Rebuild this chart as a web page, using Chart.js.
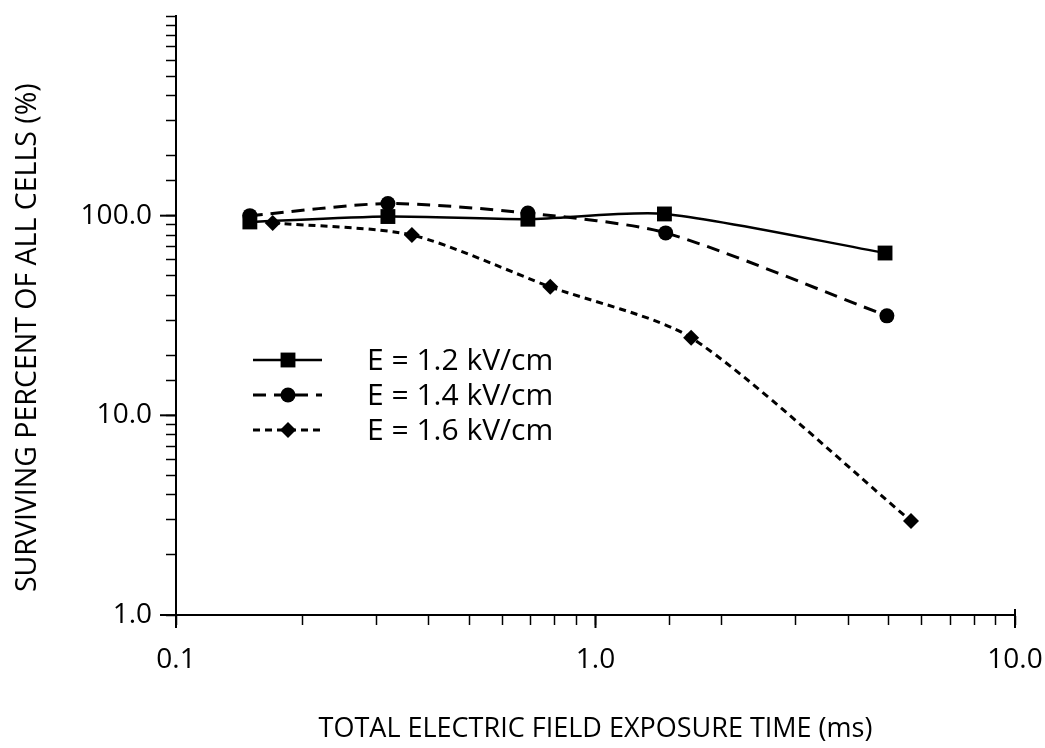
<!DOCTYPE html>
<html>
<head>
<meta charset="utf-8">
<script src="https://cdn.jsdelivr.net/npm/chart.js@4.4.1/dist/chart.umd.min.js"></script>
<style>
  html, body { margin: 0; padding: 0; background: #fff; }
  #wrap { width: 1045px; height: 748px; position: relative; }
</style>
</head>
<body>
<div id="wrap"><canvas id="c"></canvas></div>
<script>
// ---- data ----
const seriesLabels = ['E = 1.2 kV/cm', 'E = 1.4 kV/cm', 'E = 1.6 kV/cm'];
const times12 = [0.15, 0.32, 0.69, 1.46, 4.9];
const surv12  = [93, 99, 96, 102, 65];
const times14 = [0.15, 0.32, 0.69, 1.47, 4.95];
const surv14  = [100, 115, 103, 82, 31.5];
const times16 = [0.17, 0.365, 0.78, 1.69, 5.65];
const surv16  = [92, 80, 44, 24.5, 2.96];
const xMajorTicks = [0.1, 1, 10];
const yMajorTicks = [1, 10, 100];
const xTitle = 'TOTAL ELECTRIC FIELD EXPOSURE TIME (ms)';
const yTitle = 'SURVIVING PERCENT OF ALL CELLS (%)';

const FONT = '"Open Sans", "DejaVu Sans", sans-serif';

function pts(xs, ys) { return xs.map((x, i) => ({ x: x, y: ys[i] })); }
function isMajor(v) { const l = Math.log10(v); return Math.abs(l - Math.round(l)) < 1e-9; }

const styles = [
  { dash: [], width: 2.5, pointStyle: 'rect', radius: 10.5 },
  { dash: [13, 8], width: 3, pointStyle: 'circle', radius: 7.5 },
  { dash: [7, 5], width: 3, pointStyle: 'rectRot', radius: 8 }
];
const dataSets = [pts(times12, surv12), pts(times14, surv14), pts(times16, surv16)];

const datasets = dataSets.map((d, i) => ({
  label: seriesLabels[i],
  data: d,
  borderColor: '#000',
  backgroundColor: '#000',
  borderWidth: styles[i].width,
  borderDash: styles[i].dash,
  pointStyle: styles[i].pointStyle,
  pointRadius: styles[i].radius,
  pointHoverRadius: styles[i].radius,
  pointBorderWidth: 0,
  pointBackgroundColor: '#000',
  tension: 0.25,
  fill: false
}));

function drawMarker(ctx, style, r, x, y) {
  ctx.beginPath();
  if (style === 'rect') {
    const s = Math.SQRT1_2 * r;
    ctx.rect(x - s, y - s, 2 * s, 2 * s);
  } else if (style === 'circle') {
    ctx.arc(x, y, r, 0, Math.PI * 2);
  } else {
    ctx.moveTo(x - r, y); ctx.lineTo(x, y - r); ctx.lineTo(x + r, y); ctx.lineTo(x, y + r);
    ctx.closePath();
  }
  ctx.fill();
}

const extrasPlugin = {
  id: 'extras',
  afterDraw(chart) {
    const ctx = chart.ctx;
    const xs = chart.scales.x, ys = chart.scales.y;
    ctx.save();
    ctx.strokeStyle = '#000';
    ctx.lineWidth = 2;
    ctx.setLineDash([]);
    // longer major ticks
    yMajorTicks.forEach(v => {
      const py = ys.getPixelForValue(v);
      ctx.beginPath(); ctx.moveTo(xs.left - 16, py); ctx.lineTo(xs.left, py); ctx.stroke();
    });
    xMajorTicks.forEach(v => {
      const px = xs.getPixelForValue(v);
      ctx.beginPath(); ctx.moveTo(px, ys.bottom); ctx.lineTo(px, ys.bottom + 13); ctx.stroke();
    });
    // top end of x-axis at 10
    const p10 = xs.getPixelForValue(10);
    ctx.beginPath(); ctx.moveTo(p10, ys.bottom - 6); ctx.lineTo(p10, ys.bottom); ctx.stroke();

    // legend inside plot area
    const rowsY = [360, 395, 430];
    const x0 = 253, x1 = 322, xm = 288, tx = 367;
    ctx.font = '30px ' + FONT;
    ctx.textBaseline = 'middle';
    ctx.textAlign = 'left';
    ctx.fillStyle = '#000';
    styles.forEach((s, i) => {
      const y = rowsY[i];
      ctx.lineWidth = s.width;
      ctx.setLineDash(s.dash);
      ctx.beginPath(); ctx.moveTo(x0, y); ctx.lineTo(x1, y); ctx.stroke();
      ctx.setLineDash([]);
      drawMarker(ctx, s.pointStyle, s.radius, xm, y);
      ctx.fillText(seriesLabels[i], tx, y + 1);
    });
    ctx.restore();
  }
};

new Chart(document.getElementById('c'), {
  type: 'line',
  data: { datasets: datasets },
  options: {
    responsive: true,
    maintainAspectRatio: false,
    animation: false,
    devicePixelRatio: 1,
    layout: { padding: { top: 16, right: 30, left: 0, bottom: 0 } },
    plugins: { legend: { display: false }, tooltip: { enabled: false } },
    scales: {
      x: {
        type: 'logarithmic',
        min: 0.1, max: 10,
        grid: { drawOnChartArea: false, drawTicks: true, tickLength: 10, color: '#000', tickWidth: 1.5 },
        border: { display: true, color: '#000', width: 2 },
        ticks: {
          autoSkip: false, maxRotation: 0, padding: 18,
          color: '#000', font: { family: FONT, size: 28 },
          callback: function (v) {
            if (!isMajor(v)) return '';
            return v < 1 ? '0.1' : Number(v).toFixed(1);
          }
        },
        title: { display: true, text: xTitle, color: '#000', font: { family: FONT, size: 27 }, padding: { top: 0, bottom: 2 } },
        afterFit: function (s) { s.height = 133; s.paddingLeft = 0; s.paddingRight = 0; }
      },
      y: {
        type: 'logarithmic',
        min: 1, max: 1000,
        grid: { drawOnChartArea: false, drawTicks: true, tickLength: 10, color: '#000', tickWidth: 1.5 },
        border: { display: true, color: '#000', width: 2 },
        ticks: {
          autoSkip: false, padding: 14,
          color: '#000', font: { family: FONT, size: 28 },
          callback: function (v) {
            if (!isMajor(v) || v > 100) return '';
            return Number(v).toFixed(1);
          }
        },
        title: { display: true, text: yTitle + '\u00a0\u00a0\u00a0\u00a0\u00a0\u00a0', color: '#000', font: { family: FONT, size: 28.5 }, padding: { top: 11, bottom: 0 } },
        afterFit: function (s) { s.width = 176; s.paddingTop = 0; s.paddingBottom = 0; }
      }
    }
  },
  plugins: [extrasPlugin]
});
</script>
</body>
</html>
